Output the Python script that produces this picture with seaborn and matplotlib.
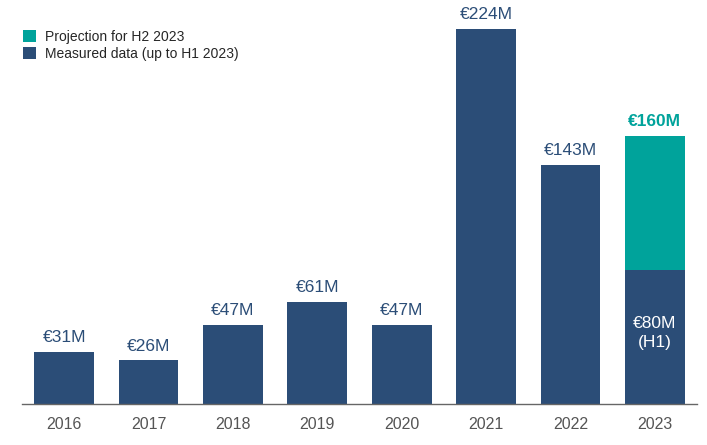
import pandas as pd
import matplotlib.pyplot as plt
import seaborn as sns

years = ['2016', '2017', '2018', '2019', '2020', '2021', '2022', '2023']
measured = [31, 26, 47, 61, 47, 224, 143, 80]
projection = [0, 0, 0, 0, 0, 0, 0, 80]
labels = ['€31M', '€26M', '€47M', '€61M', '€47M', '€224M', '€143M', '€160M']

blue = '#2b4d77'
teal = '#00a39b'

df = pd.DataFrame({'year': years, 'measured': measured, 'projection': projection})
df['total'] = df['measured'] + df['projection']

sns.set_style('white')
plt.rcParams['font.family'] = ['Liberation Sans', 'DejaVu Sans']

fig = plt.figure(figsize=(7.07, 4.45), dpi=100)
ax = fig.add_axes([0.031, 0.0921, 0.955, 0.908])

# total first (teal), measured on top (blue)
sns.barplot(data=df, x='year', y='total', color=teal, width=0.71, saturation=1, ax=ax,
            linewidth=0, label='Projection for H2 2023')
sns.barplot(data=df, x='year', y='measured', color=blue, width=0.71, saturation=1, ax=ax,
            linewidth=0, label='Measured data (up to H1 2023)')

ax.set_xlim(-0.5, 7.5)
ax.set_ylim(0, 241.3)

for i, (lab, tot) in enumerate(zip(labels, df['total'])):
    last = i == len(years) - 1
    ax.annotate(lab, (i, tot), xytext=(0, 5), textcoords='offset points',
                ha='center', va='bottom', fontsize=12.5,
                color=teal if last else blue, fontweight='bold' if last else 'normal')

ax.text(7, 42.5, '€80M\n(H1)', ha='center', va='center', color='white', fontsize=12.5,
        linespacing=1.3)

sns.despine(ax=ax, left=True)
ax.spines['bottom'].set_color('#666666')
ax.spines['bottom'].set_linewidth(1)
ax.set_yticks([])
ax.set_xlabel('')
ax.set_ylabel('')
ax.tick_params(axis='x', length=0, pad=9, labelsize=11.5, labelcolor='#555555')

leg = ax.legend(loc='upper left', bbox_to_anchor=(-0.007, 0.94), frameon=False,
                fontsize=10, handlelength=0.95, handleheight=0.95, handletextpad=0.65,
                labelspacing=0.25, borderaxespad=0)

fig.savefig('out.png', dpi=100)
